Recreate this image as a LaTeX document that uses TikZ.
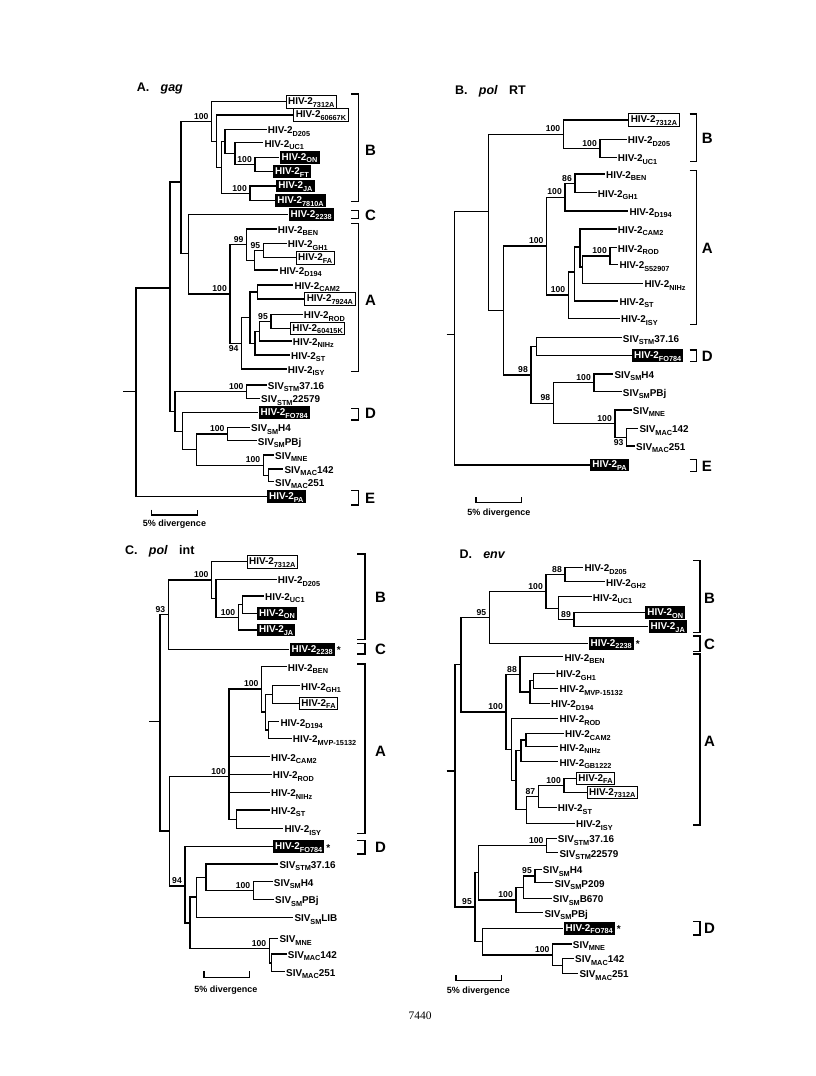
\documentclass[tikz,border=0pt]{standalone}
\usepackage{fontspec}
\setmainfont{Liberation Sans}
\newfontfamily\serifpg{Liberation Serif}
\newcommand\sbs[1]{\raisebox{-2.4pt}{\fontsize{7.3}{7.3}\selectfont #1}}
\newcommand\hvl[1]{HIV-2\sbs{#1}}
\newcommand\svl[2]{SIV\sbs{#1}#2}
\tikzset{
  trl/.style={line width=1.2pt},
  brk/.style={line width=1.4pt},
  lfbase/.style={anchor=west, font=\fontsize{9.9}{11}\selectfont\bfseries},
  lfp/.style={lfbase, inner xsep=1pt, inner ysep=0pt, text height=10.8pt, text depth=2pt},
  lfo/.style={lfbase, draw, line width=0.9pt, fill=white, inner xsep=2pt, inner ysep=0pt, text height=9.2pt, text depth=3.3pt},
  lff/.style={lfbase, fill=black, text=white, inner xsep=2.2pt, inner ysep=0pt, text height=9.2pt, text depth=3.3pt},
  bsl/.style={anchor=south east, font=\fontsize{8.6}{9}\selectfont\bfseries, inner sep=0.5pt, xshift=-2.5pt, yshift=1.5pt},
  bsb/.style={anchor=north east, font=\fontsize{8.6}{9}\selectfont\bfseries, inner sep=0.5pt, xshift=-2.5pt, yshift=-1.5pt},
  grpl/.style={anchor=west, font=\fontsize{15}{15}\selectfont\bfseries, inner sep=0pt, text height=10.7pt, text depth=0pt},
  ttl/.style={anchor=base west, font=\fontsize{12.5}{14}\selectfont\bfseries, inner sep=0pt},
  sbt/.style={anchor=base, font=\fontsize{9}{10}\selectfont\bfseries, inner sep=0pt},
  strk/.style={anchor=west, font=\fontsize{10}{10}\selectfont\bfseries, inner sep=0pt, xshift=1.5pt, yshift=-1pt},
}
\begin{document}
\begin{tikzpicture}[x=1pt,y=-1pt]
\useasboundingbox (0,0) rectangle (816,1076);
\fill[white] (0,0) rectangle (816,1076);

%%%%%%%%%%%%%%%% Panel A: gag
\node[ttl] (aTitle) at (136.7,91.7) {A.\hspace{0.9em}\textit{gag}};
\coordinate (aR) at (136,391.7);
\coordinate (aRt) at (123,391.7);
\coordinate (aUp) at (170,288);
\coordinate (aBCA) at (181,182);
\coordinate (aB1) at (211.7,121.5);
\coordinate (aB2) at (216.7,141.2);
\coordinate (aB3) at (221.7,167.4);
\coordinate (aB4) at (225,141.5);
\coordinate (aB6) at (235,153.6);
\coordinate (aB7) at (255,164.5);
\coordinate (aB5) at (250,193.3);
\coordinate (aCA) at (188.3,253.8);
\coordinate (aA) at (230,294);
\coordinate (a99) at (246.7,244.6);
\coordinate (a95p) at (254.3,260.2);
\coordinate (a95) at (263.3,250.5);
\coordinate (a94) at (241.7,343.3);
\coordinate (aAl) at (250,317.5);
\coordinate (aCM) at (257.7,292);
\coordinate (aST) at (255,343.1);
\coordinate (aNI) at (259.3,331.2);
\coordinate (a95b) at (271,321.3);
\coordinate (aSIV) at (175,411.4);
\coordinate (aSTM) at (246.7,391.7);
\coordinate (aD) at (182.7,431.1);
\coordinate (aS1) at (196.7,449.6);
\coordinate (aSM) at (227.7,434);
\coordinate (aMN) at (263.3,465.2);
\coordinate (aMC) at (268.3,475.3);

\node[lfo] (a7312A) at (285.7,101.7) {\hvl{7312A}};
\node[lfo] (a60667K) at (293.3,115) {\hvl{60667K}};
\node[lfp] (aD205) at (266.7,129.3) {\hvl{D205}};
\node[lfp] (aUC1) at (263.3,142.7) {\hvl{UC1}};
\node[lff] (aON) at (279.3,157.3) {\hvl{ON}};
\node[lff] (aFT) at (272.7,171.7) {\hvl{FT}};
\node[lff] (aJA) at (276,186) {\hvl{JA}};
\node[lff] (a7810A) at (275,200.7) {\hvl{7810A}};
\node[lff] (a2238) at (288.3,214.3) {\hvl{2238}};
\node[lfp] (aBEN) at (276.7,229) {\hvl{BEN}};
\node[lfp] (aGH1) at (286.7,243.3) {\hvl{GH1}};
\node[lfo] (aFA) at (295.7,257.7) {\hvl{FA}};
\node[lfp] (aD194) at (278.3,270) {\hvl{D194}};
\node[lfp] (aCAM2) at (293.3,285) {\hvl{CAM2}};
\node[lfo] (a7924A) at (304.3,299) {\hvl{7924A}};
\node[lfp] (aROD) at (302.7,314.3) {\hvl{ROD}};
\node[lfo] (a60415K) at (290,328.3) {\hvl{60415K}};
\node[lfp] (aNIHz) at (291.7,341) {\hvl{NIHz}};
\node[lfp] (aSTl) at (290,355) {\hvl{ST}};
\node[lfp] (aISY) at (286.7,369) {\hvl{ISY}};
\node[lfp] (aSTM1) at (266.7,385) {\svl{STM}{37.16}};
\node[lfp] (aSTM2) at (260,398.3) {\svl{STM}{22579}};
\node[lff] (aFO) at (258.3,412.7) {\hvl{FO784}};
\node[lfp] (aH4) at (250,427.3) {\svl{SM}{H4}};
\node[lfp] (aPBj) at (256.7,440.7) {\svl{SM}{PBj}};
\node[lfp] (aMNE) at (274,455) {\svl{MNE}{}};
\node[lfp] (aM142) at (283.3,469) {\svl{MAC}{142}};
\node[lfp] (aM251) at (274,481.7) {\svl{MAC}{251}};
\node[lff] (aPA) at (266.7,496.7) {\hvl{PA}};

\draw[trl] (aRt) -- (aR);
\foreach \p/\c in {aR/aUp, aR/aPA.west, aUp/aBCA, aUp/aSIV, aBCA/aB1, aBCA/aCA,
  aB1/a7312A.west, aB1/aB2, aB2/a60667K.west, aB2/aB3, aB3/aB4, aB3/aB5,
  aB4/aD205.west, aB4/aB6, aB6/aUC1.west, aB6/aB7, aB7/aON.west, aB7/aFT.west,
  aB5/aJA.west, aB5/a7810A.west, aCA/a2238.west, aCA/aA, aA/a99, aA/a94,
  a99/aBEN.west, a99/a95p, a95p/a95, a95p/aD194.west, a95/aGH1.west, a95/aFA.west,
  a94/aAl, a94/aISY.west, aAl/aCM, aAl/aST, aCM/aCAM2.west, aCM/a7924A.west,
  aST/aNI, aST/aSTl.west, aNI/a95b, aNI/aNIHz.west, a95b/aROD.west, a95b/a60415K.west,
  aSIV/aSTM, aSIV/aD, aSTM/aSTM1.west, aSTM/aSTM2.west, aD/aFO.west, aD/aS1,
  aS1/aSM, aS1/aMN, aSM/aH4.west, aSM/aPBj.west, aMN/aMNE.west, aMN/aMC,
  aMC/aM142.west, aMC/aM251.west}
  \draw[trl] (\p) |- (\c);
\foreach \n/\t in {aB1/100, aB7/100, aB5/100, a99/99, a95/95, aA/100, a95b/95,
  aSTM/100, aSM/100, aMN/100}
  \node[bsl] (l\n) at (\n) {\t};
\node[bsb] (la94) at (a94) {94};

\coordinate (aBt) at (358.3,94);   \coordinate (aBb) at (358.3,201.7);
\coordinate (aCt) at (358.3,210.7); \coordinate (aCb) at (358.3,218.3);
\coordinate (aAt) at (358.3,223.3); \coordinate (aAb) at (358.3,371.7);
\coordinate (aDt) at (358.3,408.3); \coordinate (aDb) at (358.3,420);
\coordinate (aEt) at (358.3,490.7); \coordinate (aEb) at (358.3,505);
\foreach \g in {aB,aC,aA,aD,aE}
  \draw[brk] ([xshift=-7pt]\g t) -- (\g t) -- (\g b) -- ([xshift=-7pt]\g b);
\node[grpl] (aBl) at (365,150) {B};
\node[grpl] (aCl) at (365,215) {C};
\node[grpl] (aAl2) at (365,300) {A};
\node[grpl] (aDl) at (365,413.3) {D};
\node[grpl] (aEl) at (365,497.7) {E};

\coordinate (aSc1) at (151.7,515); \coordinate (aSc2) at (197.7,515);
\draw[brk,line width=1.2pt] ([yshift=5.5pt]aSc1) -- (aSc1) -- (aSc2) -- ([yshift=5.5pt]aSc2);
\node[sbt] (aSct) at (174.5,526.5) {5\% divergence};

%%%%%%%%%%%%%%%% Panel B: pol RT
\node[ttl] (bTitle) at (455,94) {B.\hspace{0.9em}\textit{pol}\hspace{0.9em}RT};
\coordinate (bR) at (454.3,334.3);
\coordinate (bRt) at (446.7,334.3);
\coordinate (bR2) at (488.3,211.7);
\coordinate (bB) at (563.3,134.2);
\coordinate (bDU) at (600,148.3);
\coordinate (bAS) at (503.3,310.5);
\coordinate (bAin) at (546.7,246);
\coordinate (b100a) at (565,197.2);
\coordinate (b86) at (575,183.3);
\coordinate (bISY) at (568.3,295);
\coordinate (bST) at (574.3,272);
\coordinate (bCAM) at (580,247);
\coordinate (bRN) at (582.3,267);
\coordinate (bRS) at (610,256);
\coordinate (bSIV) at (531,375);
\coordinate (bSF) at (536.7,346.7);
\coordinate (b98b) at (553.3,403.2);
\coordinate (bSMb) at (594,382.8);
\coordinate (bMACb) at (615,423.6);
\coordinate (bMC2) at (626.7,437.2);

\node[lfo] (b7312A) at (628.3,120) {\hvl{7312A}};
\node[lfp] (bD205) at (626.7,139.3) {\hvl{D205}};
\node[lfp] (bUC1) at (616.7,157.3) {\hvl{UC1}};
\node[lfp] (bBEN) at (605,174) {\hvl{BEN}};
\node[lfp] (bGH1) at (596.7,192.7) {\hvl{GH1}};
\node[lfp] (bD194) at (628.3,211) {\hvl{D194}};
\node[lfp] (bCAM2) at (616.7,229) {\hvl{CAM2}};
\node[lfp] (bROD) at (616.7,247.7) {\hvl{ROD}};
\node[lfp] (bS52907) at (618.3,264.3) {\hvl{S52907}};
\node[lfp] (bNIHz) at (643.3,283.3) {\hvl{NIHz}};
\node[lfp] (bSTl) at (618.3,301) {\hvl{ST}};
\node[lfp] (bISYl) at (620,318.3) {\hvl{ISY}};
\node[lfp] (bSTM1) at (621.7,337.7) {\svl{STM}{37.16}};
\node[lff] (bFO) at (631.7,355.7) {\hvl{FO784}};
\node[lfp] (bH4) at (613.3,374) {\svl{SM}{H4}};
\node[lfp] (bPBj) at (621.7,391.7) {\svl{SM}{PBj}};
\node[lfp] (bMNE) at (631.7,410) {\svl{MNE}{}};
\node[lfp] (bM142) at (638.3,428.3) {\svl{MAC}{142}};
\node[lfp] (bM251) at (635,446) {\svl{MAC}{251}};
\node[lff] (bPA) at (590,465) {\hvl{PA}};

\draw[trl] (bRt) -- (bR);
\foreach \p/\c in {bR/bR2, bR/bPA.west, bR2/bB, bR2/bAS, bB/b7312A.west, bB/bDU,
  bDU/bD205.west, bDU/bUC1.west, bAS/bAin, bAS/bSIV, bAin/b100a, bAin/bISY,
  b100a/b86, b100a/bD194.west, b86/bBEN.west, b86/bGH1.west, bISY/bST, bISY/bISYl.west,
  bST/bCAM, bST/bSTl.west, bCAM/bCAM2.west, bCAM/bRN, bRN/bRS, bRN/bNIHz.west,
  bRS/bROD.west, bRS/bS52907.west, bSIV/bSF, bSIV/b98b, bSF/bSTM1.west, bSF/bFO.west,
  b98b/bSMb, b98b/bMACb, bSMb/bH4.west, bSMb/bPBj.west, bMACb/bMNE.west, bMACb/bMC2,
  bMC2/bM142.west, bMC2/bM251.west}
  \draw[trl] (\p) |- (\c);
\foreach \n/\t in {bB/100, bDU/100, b86/86, b100a/100, bAin/100, bRS/100, bISY/100,
  bSIV/98, b98b/98, bSMb/100, bMACb/100}
  \node[bsl] (l\n) at (\n) {\t};
\node[bsb] (lbMC2) at (bMC2) {93};

\coordinate (bBt) at (696.7,114);   \coordinate (bBb) at (696.7,161.7);
\coordinate (bAt) at (696.7,170.7); \coordinate (bAb) at (696.7,324.3);
\coordinate (bDt) at (696.7,350);   \coordinate (bDb) at (696.7,361.7);
\coordinate (bEt) at (696.7,459.3); \coordinate (bEb) at (696.7,471.7);
\foreach \g in {bB,bA,bD,bE}
  \draw[brk] ([xshift=-7pt]\g t) -- (\g t) -- (\g b) -- ([xshift=-7pt]\g b);
\node[grpl] (bBl) at (701.7,138.3) {B};
\node[grpl] (bAl) at (701.7,248.3) {A};
\node[grpl] (bDl) at (701.7,356) {D};
\node[grpl] (bEl) at (701.7,465.7) {E};

\coordinate (bSc1) at (476,502.7); \coordinate (bSc2) at (521.7,502.7);
\draw[brk,line width=1.2pt] ([yshift=5.5pt]bSc1) -- (bSc1) -- (bSc2) -- ([yshift=5.5pt]bSc2);
\node[sbt] (bSct) at (498.8,515.5) {5\% divergence};

%%%%%%%%%%%%%%%% Panel C: pol int
\node[ttl] (cTitle) at (125,554) {C.\hspace{0.9em}\textit{pol}\hspace{0.9em}int};
\coordinate (cR) at (160,721.7);
\coordinate (cRt) at (149.3,721.7);
\coordinate (cBC) at (168.3,614.7);
\coordinate (c100) at (211.7,580);
\coordinate (cD2) at (216,598.3);
\coordinate (cUJ) at (238.3,617.3);
\coordinate (cUO) at (242.7,604.7);
\coordinate (cAD) at (169.3,831);
\coordinate (cAb) at (229,776.7);
\coordinate (c100A) at (261.7,689);
\coordinate (cX) at (265.7,712);
\coordinate (cGF) at (272.3,694.5);
\coordinate (cDM) at (268.3,730);
\coordinate (cSTI) at (236.7,819.2);
\coordinate (c94) at (185,886);
\coordinate (cSIVc) at (190,923);
\coordinate (cSIVa) at (196.7,897);
\coordinate (cSS) at (206,877.3);
\coordinate (cSM) at (253.3,890.5);
\coordinate (cMN) at (269.3,948.3);
\coordinate (cMC) at (271.7,963);

\node[lfo] (c7312A) at (246.7,561.7) {\hvl{7312A}};
\node[lfp] (cD205) at (276.7,579.3) {\hvl{D205}};
\node[lfp] (cUC1) at (264,596) {\hvl{UC1}};
\node[lff] (cON) at (256.7,613.3) {\hvl{ON}};
\node[lff] (cJA) at (256.7,630) {\hvl{JA}};
\node[lff] (c2238) at (289.3,649.3) {\hvl{2238}};
\node[strk] (c2238s) at (c2238.east) {*};
\node[lfp] (cBEN) at (286.7,666.7) {\hvl{BEN}};
\node[lfp] (cGH1) at (300,685.7) {\hvl{GH1}};
\node[lfo] (cFA) at (299,703.3) {\hvl{FA}};
\node[lfp] (cD194) at (279.3,721.7) {\hvl{D194}};
\node[lfp] (cMVP) at (291.7,738.3) {\hvl{MVP-15132}};
\node[lfp] (cCAM2) at (270,756.7) {\hvl{CAM2}};
\node[lfp] (cROD) at (271.7,774.3) {\hvl{ROD}};
\node[lfp] (cNIHz) at (270,792.3) {\hvl{NIHz}};
\node[lfp] (cSTl) at (270,810) {\hvl{ST}};
\node[lfp] (cISY) at (283.3,828.3) {\hvl{ISY}};
\node[lff] (cFO) at (272.7,846.7) {\hvl{FO784}};
\node[strk] (cFOs) at (cFO.east) {*};
\node[lfp] (cSTM1) at (278.3,864) {\svl{STM}{37.16}};
\node[lfp] (cH4) at (272.7,881.7) {\svl{SM}{H4}};
\node[lfp] (cPBj) at (274,899.3) {\svl{SM}{PBj}};
\node[lfp] (cLIB) at (293.3,917.3) {\svl{SM}{LIB}};
\node[lfp] (cMNE) at (278.3,938.3) {\svl{MNE}{}};
\node[lfp] (cM142) at (286.7,954) {\svl{MAC}{142}};
\node[lfp] (cM251) at (285,971.7) {\svl{MAC}{251}};

\draw[trl] (cRt) -- (cR);
\foreach \p/\c in {cR/cBC, cR/cAD, cBC/c100, cBC/c2238.west, c100/c7312A.west, c100/cD2,
  cD2/cD205.west, cD2/cUJ, cUJ/cUO, cUJ/cJA.west, cUO/cUC1.west, cUO/cON.west,
  cAD/cAb, cAD/c94, cAb/c100A, cAb/cCAM2.west, cAb/cROD.west, cAb/cNIHz.west, cAb/cSTI,
  c100A/cBEN.west, c100A/cX, cX/cGF, cX/cDM, cGF/cGH1.west, cGF/cFA.west,
  cDM/cD194.west, cDM/cMVP.west, cSTI/cSTl.west, cSTI/cISY.west,
  c94/cFO.west, c94/cSIVc, cSIVc/cSIVa, cSIVc/cMN, cSIVa/cSS, cSIVa/cLIB.west,
  cSS/cSTM1.west, cSS/cSM, cSM/cH4.west, cSM/cPBj.west, cMN/cMNE.west, cMN/cMC,
  cMC/cM142.west, cMC/cM251.west}
  \draw[trl] (\p) |- (\c);
\foreach \n/\t in {c100/100, cUJ/100, cBC/93, c100A/100, cAb/100, c94/94, cSM/100, cMN/100}
  \node[bsl] (l\n) at (\n) {\t};

\coordinate (cBt) at (365,554);   \coordinate (cBb) at (365,639.3);
\coordinate (cCt) at (365,643.3); \coordinate (cCb) at (365,654);
\coordinate (cAt) at (365,664);   \coordinate (cAbb) at (365,833.3);
\coordinate (cDt) at (365,840.7); \coordinate (cDb) at (365,854);
\draw[brk] ([xshift=-8pt]cBt) -- (cBt) -- (cBb) -- ([xshift=-8pt]cBb);
\draw[brk] ([xshift=-8pt]cCt) -- (cCt) -- (cCb) -- ([xshift=-8pt]cCb);
\draw[brk] ([xshift=-8pt]cAt) -- (cAt) -- (cAbb) -- ([xshift=-8pt]cAbb);
\draw[brk] ([xshift=-8pt]cDt) -- (cDt) -- (cDb) -- ([xshift=-8pt]cDb);
\node[grpl] (cBl) at (375,596.7) {B};
\node[grpl] (cCl) at (375,648.7) {C};
\node[grpl] (cAl) at (375,751) {A};
\node[grpl] (cDl) at (375,847.3) {D};

\coordinate (cSc1) at (204,977.3); \coordinate (cSc2) at (249.3,977.3);
\draw[brk,line width=1.2pt] ([yshift=6pt]cSc1) -- (cSc1) -- (cSc2) -- ([yshift=6pt]cSc2);
\node[sbt] (cSct) at (225.8,992.7) {5\% divergence};

%%%%%%%%%%%%%%%% Panel D: env
\node[ttl] (dTitle) at (459.3,558.3) {D.\hspace{0.9em}\textit{env}};
\coordinate (dR) at (455,771);
\coordinate (dRt) at (446.7,771);
\coordinate (dBCA) at (461,664.6);
\coordinate (dBC) at (489.3,617.3);
\coordinate (d100) at (546,591.3);
\coordinate (d88) at (565,574.5);
\coordinate (dUC) at (558.3,608.2);
\coordinate (d89) at (574,619.7);
\coordinate (dA100) at (506,711.9);
\coordinate (d88A) at (520,674.4);
\coordinate (dGMD) at (530,692);
\coordinate (dGM) at (533.3,680.8);
\coordinate (dAr) at (511.7,749.3);
\coordinate (dA3) at (516,780.3);
\coordinate (dCNG) at (521,750.8);
\coordinate (dCN) at (526,740);
\coordinate (dIS) at (526.7,809.8);
\coordinate (d87) at (538.3,796.3);
\coordinate (dFA7) at (564,785.3);
\coordinate (dSIV) at (475,906.9);
\coordinate (dSS) at (478.3,872.8);
\coordinate (dSTM) at (546.7,845.5);
\coordinate (dSMP) at (516,900);
\coordinate (dSMB) at (523.3,887.2);
\coordinate (dSM95) at (535,876);
\coordinate (dFM) at (482.7,941.6);
\coordinate (dMN) at (552.7,954.9);
\coordinate (dMC) at (562.7,965.8);

\node[lfp] (dD205) at (583.3,567.3) {\hvl{D205}};
\node[lfp] (dGH2) at (605,581.7) {\hvl{GH2}};
\node[lfp] (dUC1) at (591.7,596.7) {\hvl{UC1}};
\node[lff] (dON) at (645,612.7) {\hvl{ON}};
\node[lff] (dJA) at (648.3,626.7) {\hvl{JA}};
\node[lff] (d2238) at (588.3,643.3) {\hvl{2238}};
\node[strk] (d2238s) at (d2238.east) {*};
\node[lfp] (dBEN) at (563.3,656.7) {\hvl{BEN}};
\node[lfp] (dGH1) at (555,673.3) {\hvl{GH1}};
\node[lfp] (dMVP) at (558.3,688.3) {\hvl{MVP-15132}};
\node[lfp] (dD194) at (550,703.3) {\hvl{D194}};
\node[lfp] (dROD) at (558.3,718.3) {\hvl{ROD}};
\node[lfp] (dCAM2) at (564,733.3) {\hvl{CAM2}};
\node[lfp] (dNIHz) at (558.3,746.7) {\hvl{NIHz}};
\node[lfp] (dGB) at (558.3,761.7) {\hvl{GB1222}};
\node[lfo] (dFA) at (576,778.3) {\hvl{FA}};
\node[lfo] (d7312A) at (586.7,792.3) {\hvl{7312A}};
\node[lfp] (dSTl) at (556.7,807.3) {\hvl{ST}};
\node[lfp] (dISY) at (575,823.3) {\hvl{ISY}};
\node[lfp] (dSTM1) at (556.7,838.3) {\svl{STM}{37.16}};
\node[lfp] (dSTM2) at (558.3,852.7) {\svl{STM}{22579}};
\node[lfp] (dH4) at (541.7,869.3) {\svl{SM}{H4}};
\node[lfp] (dP209) at (553.3,882.7) {\svl{SM}{P209}};
\node[lfp] (dB670) at (551.7,898.3) {\svl{SM}{B670}};
\node[lfp] (dPBj) at (543.3,912.7) {\svl{SM}{PBj}};
\node[lff] (dFO) at (563.3,928.3) {\hvl{FO784}};
\node[strk] (dFOs) at (dFO.east) {*};
\node[lfp] (dMNE) at (571.7,944) {\svl{MNE}{}};
\node[lfp] (dM142) at (574,958.3) {\svl{MAC}{142}};
\node[lfp] (dM251) at (578.3,973.3) {\svl{MAC}{251}};

\draw[trl] (dRt) -- (dR);
\foreach \p/\c in {dR/dBCA, dR/dSIV, dBCA/dBC, dBCA/dA100, dBC/d100, dBC/d2238.west,
  d100/d88, d100/dUC, d88/dD205.west, d88/dGH2.west, dUC/dUC1.west, dUC/d89,
  d89/dON.west, d89/dJA.west, dA100/d88A, dA100/dAr, d88A/dBEN.west, d88A/dGMD,
  dGMD/dGM, dGMD/dD194.west, dGM/dGH1.west, dGM/dMVP.west, dAr/dROD.west, dAr/dA3,
  dA3/dCNG, dA3/dIS, dCNG/dCN, dCNG/dGB.west, dCN/dCAM2.west, dCN/dNIHz.west,
  dIS/d87, dIS/dISY.west, d87/dFA7, d87/dSTl.west, dFA7/dFA.west, dFA7/d7312A.west,
  dSIV/dSS, dSIV/dFM, dSS/dSTM, dSS/dSMP, dSTM/dSTM1.west, dSTM/dSTM2.west,
  dSMP/dSMB, dSMP/dPBj.west, dSMB/dSM95, dSMB/dB670.west, dSM95/dH4.west, dSM95/dP209.west,
  dFM/dFO.west, dFM/dMN, dMN/dMNE.west, dMN/dMC, dMC/dM142.west, dMC/dM251.west}
  \draw[trl] (\p) |- (\c);
\foreach \n/\t in {d88/88, d89/89, d100/100, dBC/95, d88A/88, dA100/100, d87/87, dFA7/100,
  dSTM/100, dSM95/95, dSMP/100, dSIV/95, dMN/100}
  \node[bsl] (l\n) at (\n) {\t};

\coordinate (dBt) at (700,560.7); \coordinate (dBb) at (700,632.7);
\coordinate (dCt) at (700,636);   \coordinate (dCb) at (700,651.7);
\coordinate (dAt) at (700,654);   \coordinate (dAb) at (700,825);
\coordinate (dDt) at (700,921.7); \coordinate (dDb) at (700,935);
\foreach \g in {dB,dC,dA,dD}
  \draw[brk] ([xshift=-7pt]\g t) -- (\g t) -- (\g b) -- ([xshift=-7pt]\g b);
\node[grpl] (dBl) at (704,598.3) {B};
\node[grpl] (dCl) at (704,644) {C};
\node[grpl] (dAl) at (704,741) {A};
\node[grpl] (dDl) at (704,927.7) {D};

\coordinate (dSc1) at (456,980.7); \coordinate (dSc2) at (501.7,980.7);
\draw[brk,line width=1.2pt] ([yshift=5.5pt]dSc1) -- (dSc1) -- (dSc2) -- ([yshift=5.5pt]dSc2);
\node[sbt] (dSct) at (478.3,993.3) {5\% divergence};

\node[font=\serifpg\fontsize{11.5}{13}\selectfont, anchor=base, inner sep=0pt] (pg) at (420,1019.3) {7440};
\end{tikzpicture}
\end{document}
